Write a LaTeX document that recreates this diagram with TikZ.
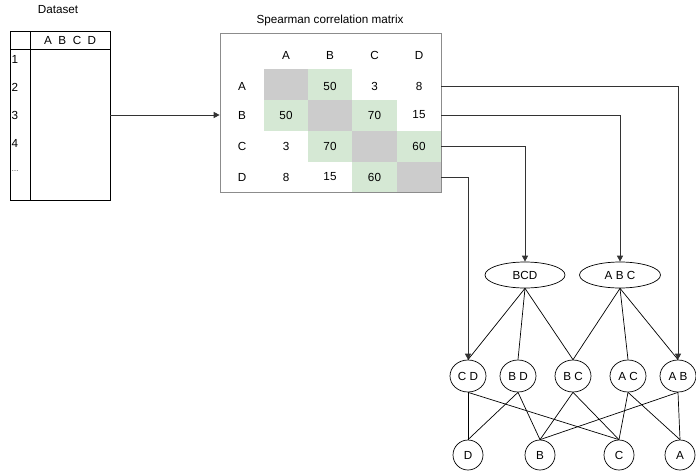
\documentclass[tikz,border=0pt]{standalone}
\usepackage{fontspec}
\setmainfont{Liberation Sans}
\usetikzlibrary{arrows.meta,shapes.geometric}
\definecolor{cgreen}{HTML}{D5E8D4}
\definecolor{cgray}{HTML}{CCCCCC}
\definecolor{cline}{HTML}{333333}
\begin{document}
\begin{tikzpicture}[x=1pt,y=-1pt,font=\fontsize{11.7}{13}\selectfont,
  conn/.style={draw=cline,line width=0.9pt,-{Triangle[length=6pt,width=6pt]}},
  edge/.style={draw=black,line width=0.7pt},
  ell/.style={draw,ellipse,line width=0.7pt,inner sep=0pt,minimum width=#1},
  lbl/.style={inner sep=0pt}]
\useasboundingbox (0,0) rectangle (696,471);
% Dataset
\node[lbl] (dstitle) at (58,10) {Dataset};
\node[draw,line width=0.8pt,minimum width=100pt,minimum height=169pt,inner sep=0pt] (ds) at (60,115.5) {};
\draw[line width=0.8pt] (10,49) -- (110,49);
\draw[line width=0.8pt] (30,31) -- (30,200);
\node[lbl,anchor=west] (dscols) at (44,40) {A\ \ B\ \ C\ \ D};
\node[lbl,anchor=west] (r1) at (11.5,59) {1};
\node[lbl,anchor=west] (r2) at (11.5,87) {2};
\node[lbl,anchor=west] (r3) at (11.5,115) {3};
\node[lbl,anchor=west] (r4) at (11.5,143) {4};
\node[lbl,anchor=west] (r5) at (11.5,171) {\fontsize{7}{8}\selectfont\ldots};
% Matrix
\node[lbl] (mtitle) at (330,20) {Spearman correlation matrix};
\fill[cgray] (264,69) rectangle (308,100);
\fill[cgray] (308,100) rectangle (352,131);
\fill[cgray] (352,131) rectangle (397,162);
\fill[cgray] (397,162) rectangle (441,192);
\fill[cgreen] (308,69) rectangle (352,100);
\fill[cgreen] (264,100) rectangle (308,131);
\fill[cgreen] (352,100) rectangle (397,131);
\fill[cgreen] (308,131) rectangle (352,162);
\fill[cgreen] (397,131) rectangle (441,162);
\fill[cgreen] (352,162) rectangle (397,192);
\node[draw=black!45,line width=0.7pt,minimum width=221pt,minimum height=159pt,inner sep=0pt] (mat) at (330.5,112.5) {};
\foreach \n/\x in {A/286,B/330,C/374.5,D/419} \node[lbl] (h\n) at (\x,55) {\n};
\foreach \n/\y in {A/86,B/115,C/146,D/177} \node[lbl] (l\n) at (242,\y) {\n};
\node[lbl] (cAB) at (330,86) {50};
\node[lbl] (cAC) at (374.5,86) {3};
\node[lbl] (cAD) at (419,86) {8};
\node[lbl] (cBA) at (286,115) {50};
\node[lbl] (cBC) at (374.5,115) {70};
\node[lbl] (cBD) at (419,115) {15};
\node[lbl] (cCA) at (286,146) {3};
\node[lbl] (cCB) at (330,146) {70};
\node[lbl] (cCD) at (419,146) {60};
\node[lbl] (cDA) at (286,177) {8};
\node[lbl] (cDB) at (330,177) {15};
\node[lbl] (cDC) at (374.5,177) {60};
\coordinate (eA) at (441,86);
\coordinate (eB) at (441,115);
\coordinate (eC) at (441,146);
\coordinate (eD) at (441,177);
% Graph nodes
\node[ell=80pt,minimum height=26pt] (BCD) at (525,275) {BCD};
\node[ell=81pt,minimum height=26pt] (ABC) at (620,275) {A B C};
\node[ell=36pt,minimum height=32pt] (CD) at (468,376) {C D};
\node[ell=36pt,minimum height=32pt] (BD) at (518,376) {B D};
\node[ell=36pt,minimum height=32pt] (BC) at (573,376) {B C};
\node[ell=36pt,minimum height=32pt] (AC) at (628,376) {A C};
\node[ell=36pt,minimum height=32pt] (AB) at (678,376) {A B};
\node[ell=30pt,minimum height=30pt] (D) at (468,455) {D};
\node[ell=30pt,minimum height=30pt] (B) at (540,455) {B};
\node[ell=30pt,minimum height=30pt] (C) at (619,455) {C};
\node[ell=30pt,minimum height=30pt] (A) at (680,455) {A};
% connectors
\draw[line width=0.9pt,draw=cline,-{Triangle[length=6pt,width=6pt]}] (110,115) -- (mat.west |- eB);
\draw[conn] (eA) -| (AB.north);
\draw[conn] (eB) -| (ABC.north);
\draw[conn] (eC) -| (BCD.north);
\draw[conn] (eD) -| (CD.north);
\draw[edge] (BCD.south) -- (CD.north);
\draw[edge] (BCD.south) -- (BD.north);
\draw[edge] (BCD.south) -- (BC.north);
\draw[edge] (ABC.south) -- (BC.north);
\draw[edge] (ABC.south) -- (AC.north);
\draw[edge] (ABC.south) -- (AB.north);
\draw[edge] (CD.south) -- (D.north);
\draw[edge] (CD.south) -- (C.north);
\draw[edge] (BD.south) -- (D.north);
\draw[edge] (BD.south) -- (B.north);
\draw[edge] (BC.south) -- (B.north);
\draw[edge] (BC.south) -- (C.north);
\draw[edge] (AC.south) -- (C.north);
\draw[edge] (AC.south) -- (A.north);
\draw[edge] (AB.south) -- (B.north);
\draw[edge] (AB.south) -- (A.north);
\end{tikzpicture}
\end{document}
